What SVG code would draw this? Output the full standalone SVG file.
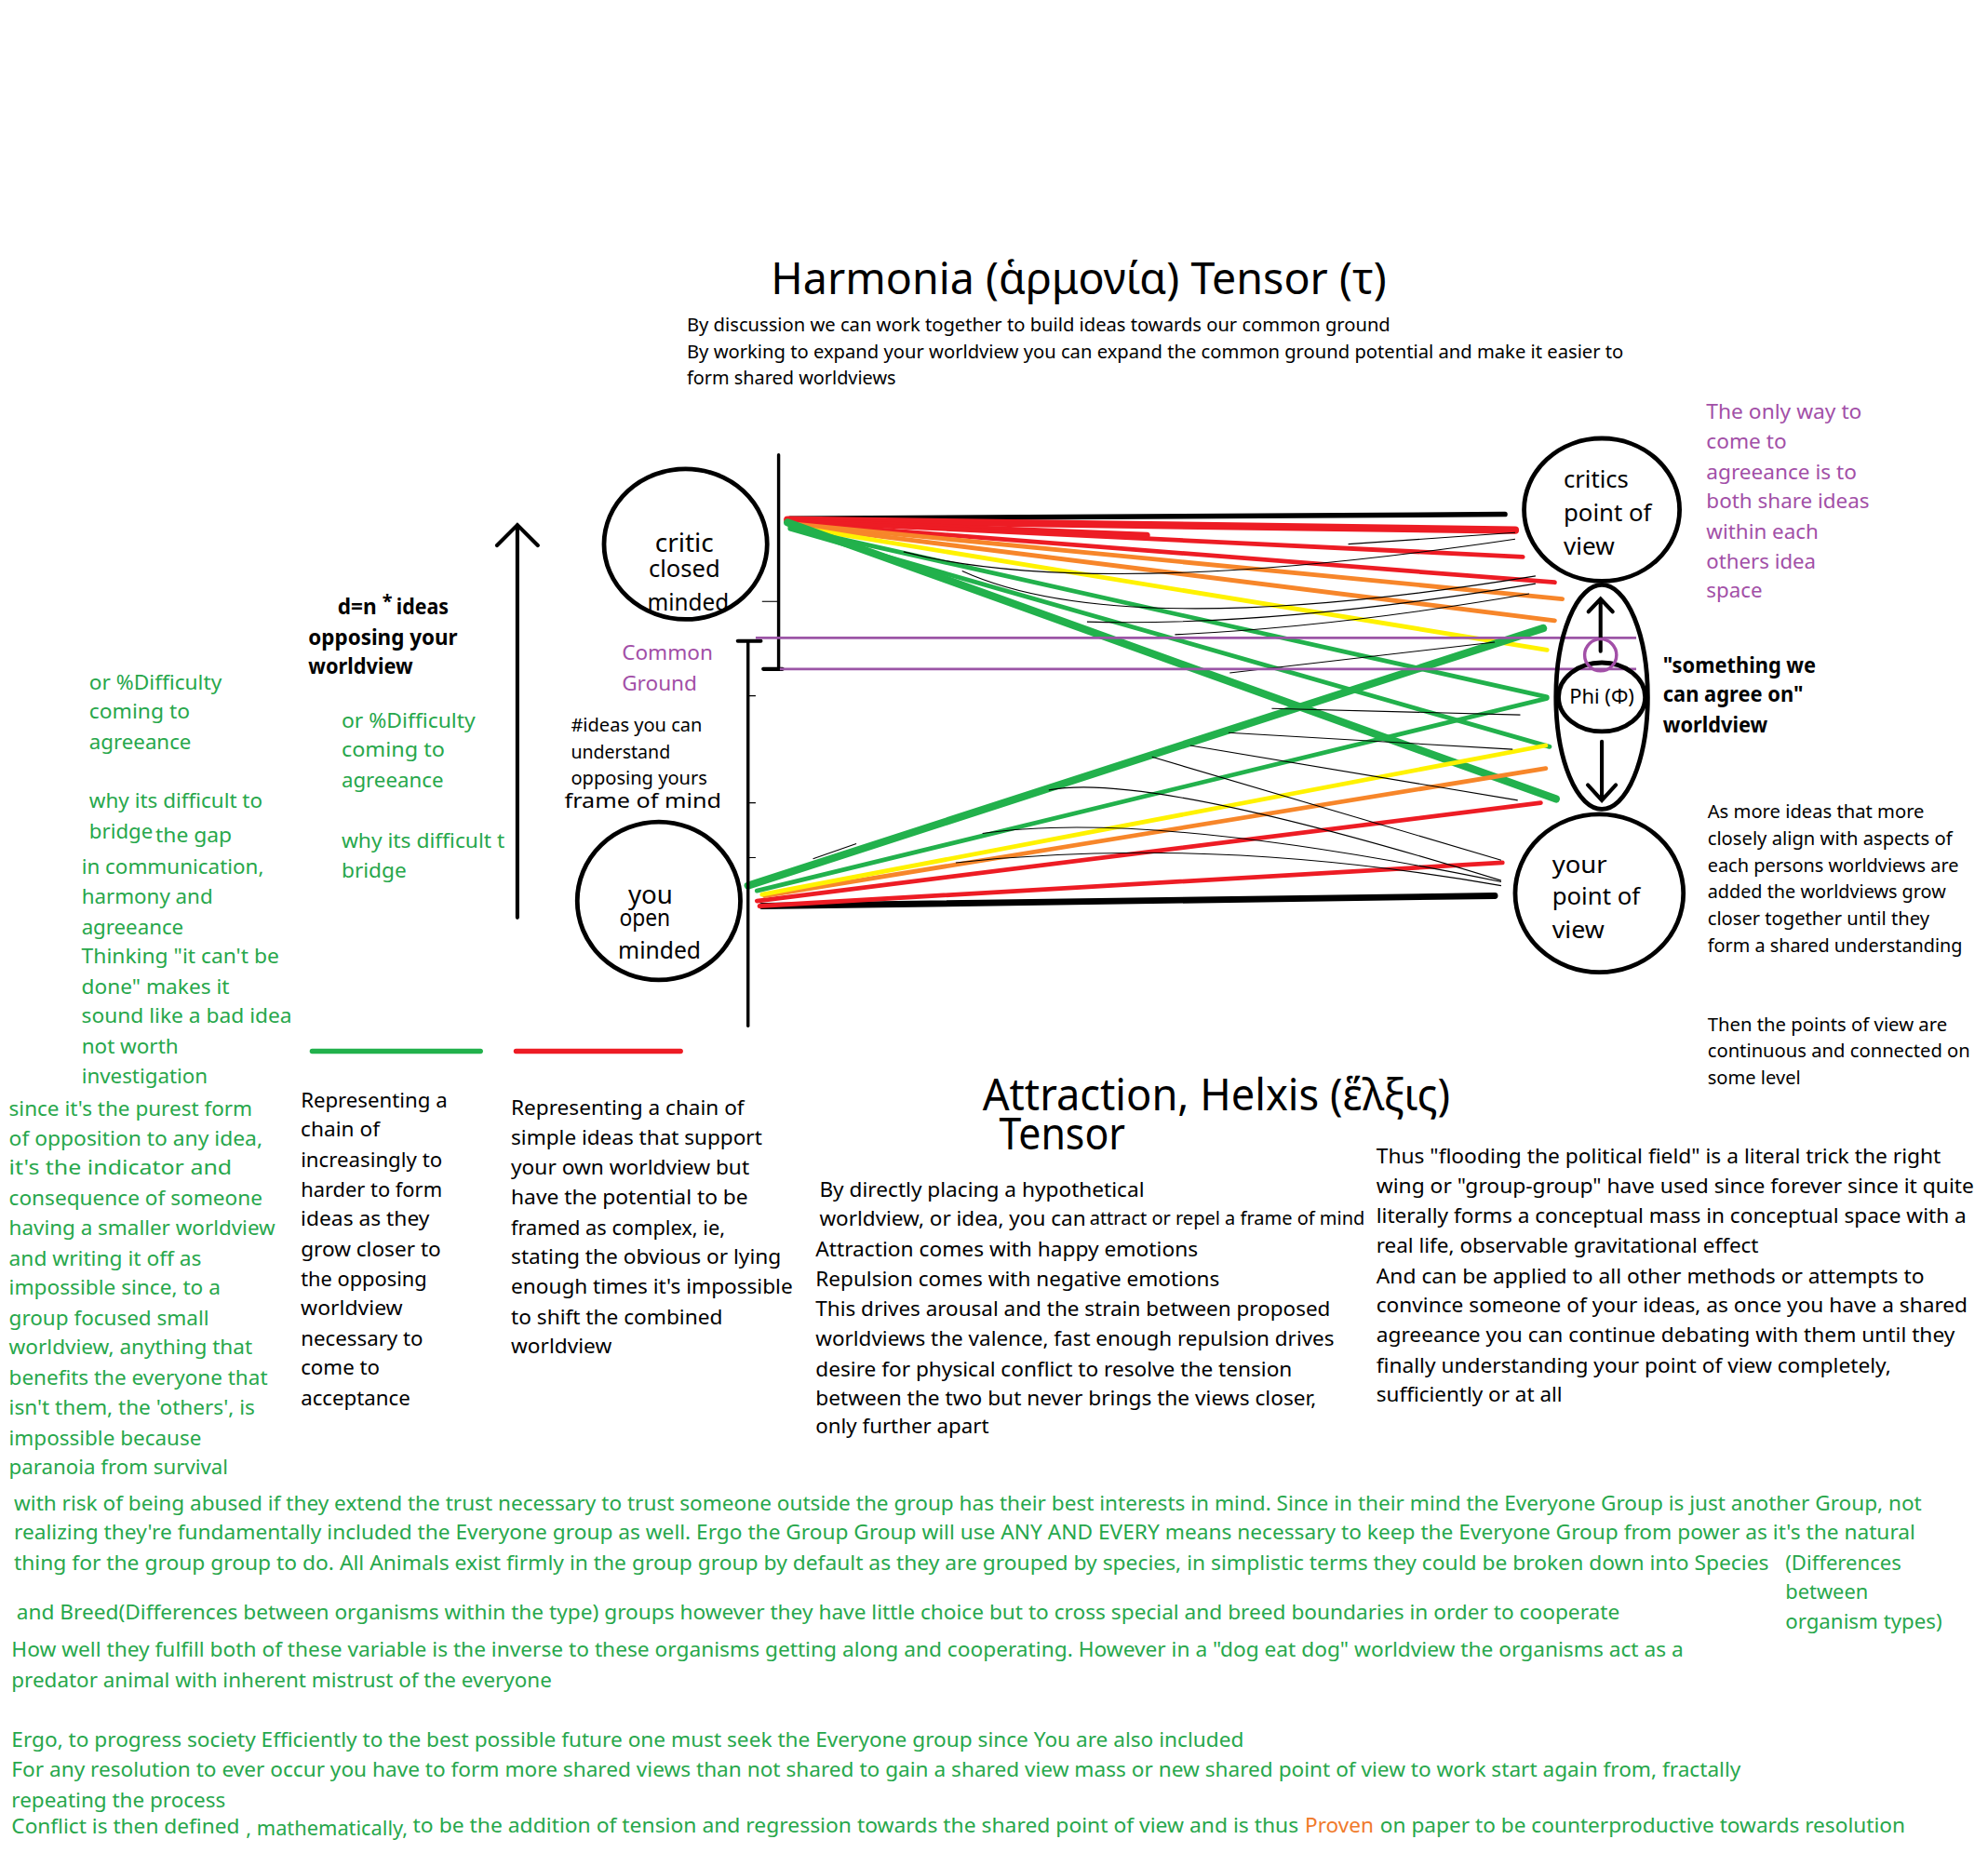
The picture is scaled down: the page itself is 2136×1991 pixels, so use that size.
<svg xmlns="http://www.w3.org/2000/svg" width="2136" height="1991" viewBox="0 0 2136 1991">
<style>
text{font-family:"Noto Sans","Open Sans","DejaVu Sans",sans-serif;fill:#000}
.g{fill:#27a74b}
.p{fill:#a24fa7}
.o{fill:#f07a2a}
.b{font-weight:bold}
.s14{font-size:14.5px}
.s16{font-size:16px}
.s17{font-size:16.5px}
.s19{font-size:18.5px}
.s20{font-size:19.5px}
.s34{font-size:34px}
.node{fill:none;stroke:#000;stroke-width:3.5}
.ln{fill:none;stroke-linecap:round}
.thin{fill:none;stroke:#000;stroke-width:0.8}
.bk{stroke:#000}
.rd{stroke:#ed1c24}
.or{stroke:#f7862a}
.ye{stroke:#fff200}
.gr{stroke:#22b14c}
.pu{stroke:#9b55a6;stroke-width:2;fill:none}
</style>
<rect width="2136" height="1991" fill="#fff"/>
<g transform="scale(1.3692)">

<g id="titles">
<text class="s34" x="605" y="231" textLength="483" lengthAdjust="spacingAndGlyphs">Harmonia (ἁρμονία) Tensor  (τ)</text>
<text class="s14" x="539" y="260" textLength="552" lengthAdjust="spacingAndGlyphs">By discussion we can work together to build ideas towards our common ground</text>
<text class="s14" x="539" y="281" textLength="735" lengthAdjust="spacingAndGlyphs">By working to expand your worldview you can expand the common ground potential and make it easier to</text>
<text class="s14" x="539" y="302" textLength="164" lengthAdjust="spacingAndGlyphs">form shared worldviews</text>
<text class="s34" x="771" y="871" textLength="367" lengthAdjust="spacingAndGlyphs">Attraction, Helxis (ἕλξις)</text>
<text class="s34" x="784" y="902" textLength="99" lengthAdjust="spacingAndGlyphs">Tensor</text>
</g>

<g id="connectors">
<!-- from critic -->
<path class="ln bk" stroke-width="4" d="M620,407 L1181,403.6"/>
<path class="ln rd" stroke-width="6" d="M618,408 L1189,416"/>
<path class="ln rd" stroke-width="5" d="M620,409 L900,420"/>
<path class="ln rd" stroke-width="3.5" d="M618,409 L1195,437"/>
<path class="ln rd" stroke-width="3.5" d="M618,410 L1220,457"/>
<path class="ln or" stroke-width="3.5" d="M620,411 L1226,470"/>
<path class="ln or" stroke-width="3.5" d="M620,412 L1220,487"/>
<path class="ln ye" stroke-width="3.5" d="M620,413 L1214,510"/>
<path class="ln gr" stroke-width="3.5" d="M620,414 L1214,547"/>
<path class="ln gr" stroke-width="3.5" d="M620,415 L1216,586"/>
<path class="ln gr" stroke-width="6" d="M618,410 L1221,627"/>
<!-- from you -->
<path class="ln bk" stroke-width="5" d="M598,711 L1173,703"/>
<path class="ln rd" stroke-width="3.5" d="M596,711 L1179,677"/>
<path class="ln rd" stroke-width="3.5" d="M594,707 L1209,630"/>
<path class="ln or" stroke-width="3.5" d="M600,703 L1213,603"/>
<path class="ln ye" stroke-width="3.5" d="M598,702 L1213,585"/>
<path class="ln gr" stroke-width="3.5" d="M594,699 L1214,548"/>
<path class="ln gr" stroke-width="6" d="M587,695 L1211,493"/>
<!-- thin mesh -->
<path class="thin" d="M709,433 Q860,472 1189,423"/>
<path class="thin" d="M755,448 Q880,505 1205,452"/>
<path class="thin" d="M853,488 Q1000,492 1205,458"/>
<path class="thin" d="M922,498 Q1050,492 1200,466"/>
<path class="thin" d="M965,528 L1173,504"/>
<path class="thin" d="M1058,427 L1189,418"/>
<path class="thin" d="M998,556 L1193,561"/>
<path class="thin" d="M964,575 L1187,588"/>
<path class="thin" d="M934,585 L1191,628"/>
<path class="thin" d="M904,594 L1178,675"/>
<path class="thin" d="M823,620 Q900,605 1178,691"/>
<path class="thin" d="M771,654 Q900,635 1178,692"/>
<path class="thin" d="M750,677 Q950,655 1178,695"/>
<path class="thin" d="M638,674 L672,662"/>
<!-- axes -->
<path class="ln bk" stroke-width="2.5" d="M611,357 L611,525"/>
<path class="ln bk" stroke-width="3" d="M599,525 L614,525"/>
<path class="ln bk" stroke-width="2.5" d="M587,503 L587,805"/>
<path class="ln bk" stroke-width="3" d="M579,503 L597,503"/>
<path class="thin" d="M598,472 L610,472"/>
<path class="thin" d="M587,546 L593,546 M587,630 L593,630 M587,673 L593,673"/>
<path class="ln bk" stroke-width="3" d="M406,720 L406,412 M390,428 L406,412 L422,428"/>
<!-- common ground -->
<path class="pu" d="M593,500.5 L1284,500.5"/>
<path class="pu" d="M612,525 L1284,525"/>
<!-- legend -->
<path class="ln gr" stroke-width="4" d="M245,825 L377,825"/>
<path class="ln rd" stroke-width="4" d="M405,825 L534,825"/>
</g>

<g id="critic">
<ellipse class="node" cx="538" cy="427" rx="64" ry="59"/>
<text class="s20" x="514" y="433" textLength="46" lengthAdjust="spacingAndGlyphs">critic</text>
<text class="s19" x="509" y="453" textLength="56" lengthAdjust="spacingAndGlyphs">closed</text>
<text class="s19" x="508" y="479" textLength="64" lengthAdjust="spacingAndGlyphs">minded</text>
</g>

<g id="you">
<ellipse class="node" cx="517" cy="707" rx="64" ry="62"/>
<text class="s20" x="493" y="709" textLength="35" lengthAdjust="spacingAndGlyphs">you</text>
<text class="s19" x="486" y="727" textLength="40" lengthAdjust="spacingAndGlyphs">open</text>
<text class="s19" x="485" y="752" textLength="65" lengthAdjust="spacingAndGlyphs">minded</text>
</g>

<g id="critics-pov">
<ellipse class="node" cx="1257" cy="400" rx="61" ry="56"/>
<text class="s19" x="1227" y="383" textLength="51" lengthAdjust="spacingAndGlyphs">critics</text>
<text class="s19" x="1227" y="409" textLength="69" lengthAdjust="spacingAndGlyphs">point of</text>
<text class="s19" x="1227" y="435" textLength="40" lengthAdjust="spacingAndGlyphs">view</text>
</g>

<g id="your-pov">
<ellipse class="node" cx="1255" cy="701" rx="66" ry="62"/>
<text class="s19" x="1218" y="685" textLength="43" lengthAdjust="spacingAndGlyphs">your</text>
<text class="s19" x="1218" y="710" textLength="69" lengthAdjust="spacingAndGlyphs">point of</text>
<text class="s19" x="1218" y="736" textLength="41" lengthAdjust="spacingAndGlyphs">view</text>
</g>

<g id="phi">
<ellipse class="node" stroke-width="3" cx="1257" cy="547" rx="36" ry="88"/>
<ellipse class="node" stroke-width="3" cx="1257" cy="547" rx="34" ry="27"/>
<text class="s16" x="1257" y="552" text-anchor="middle">Phi (Φ)</text>
<path class="ln bk" stroke-width="3" d="M1256,511 L1256,471 M1246.5,480 L1256,470 L1265.5,480"/>
<path class="ln bk" stroke-width="3" d="M1257,582 L1257,627 M1246,616 L1257,628 L1268,616"/>
<circle cx="1256" cy="514" r="12.5" fill="none" stroke="#a24fa7" stroke-width="2.5"/>
</g>

<g id="labels">
<text class="s17 p" x="488" y="518">Common</text>
<text class="s17 p" x="488" y="542">Ground</text>
<text class="s14" x="448" y="574" textLength="103" lengthAdjust="spacingAndGlyphs">#ideas you can</text>
<text class="s14" x="448" y="595" textLength="78" lengthAdjust="spacingAndGlyphs">understand</text>
<text class="s14" x="448" y="616" textLength="107" lengthAdjust="spacingAndGlyphs">opposing yours</text>
<text class="s17" x="443" y="634" textLength="123" lengthAdjust="spacingAndGlyphs">frame of mind</text>

<text class="s17 b" x="265" y="482">d=n</text><text class="s14 b" x="300" y="477">*</text><text class="s17 b" x="311" y="482" textLength="41" lengthAdjust="spacingAndGlyphs">ideas</text>
<text class="s17 b" x="242" y="506" textLength="117" lengthAdjust="spacingAndGlyphs">opposing your</text>
<text class="s17 b" x="242" y="529" textLength="82" lengthAdjust="spacingAndGlyphs">worldview</text>

<text class="s17 g" x="268" y="571" textLength="105" lengthAdjust="spacingAndGlyphs">or %Difficulty</text>
<text class="s17 g" x="268" y="594" textLength="81" lengthAdjust="spacingAndGlyphs">coming to</text>
<text class="s17 g" x="268" y="618" textLength="80" lengthAdjust="spacingAndGlyphs">agreeance</text>
<text class="s17 g" x="268" y="665" textLength="128" lengthAdjust="spacingAndGlyphs">why its difficult t</text>
<text class="s17 g" x="268" y="689" textLength="51" lengthAdjust="spacingAndGlyphs">bridge</text>

<text class="s17 g" x="70" y="541" textLength="104" lengthAdjust="spacingAndGlyphs">or %Difficulty</text>
<text class="s17 g" x="70" y="564" textLength="79" lengthAdjust="spacingAndGlyphs">coming to</text>
<text class="s17 g" x="70" y="588" textLength="80" lengthAdjust="spacingAndGlyphs">agreeance</text>
<text class="s17 g" x="70" y="634" textLength="136" lengthAdjust="spacingAndGlyphs">why its difficult to</text>
<text class="s17 g" x="70" y="658" textLength="50" lengthAdjust="spacingAndGlyphs">bridge</text>
<text class="s17 g" x="122" y="661" textLength="60" lengthAdjust="spacingAndGlyphs">the gap</text>
<text class="s17 g" x="64" y="686" textLength="143" lengthAdjust="spacingAndGlyphs">in communication,</text>
<text class="s17 g" x="64" y="709" textLength="103" lengthAdjust="spacingAndGlyphs">harmony and</text>
<text class="s17 g" x="64" y="733" textLength="80" lengthAdjust="spacingAndGlyphs">agreeance</text>
<text class="s17 g" x="64" y="756" textLength="155" lengthAdjust="spacingAndGlyphs">Thinking "it can't be</text>
<text class="s17 g" x="64" y="780" textLength="116" lengthAdjust="spacingAndGlyphs">done" makes it</text>
<text class="s17 g" x="64" y="803" textLength="165" lengthAdjust="spacingAndGlyphs">sound like a bad idea</text>
<text class="s17 g" x="64" y="827" textLength="76" lengthAdjust="spacingAndGlyphs">not worth</text>
<text class="s17 g" x="64" y="850" textLength="99" lengthAdjust="spacingAndGlyphs">investigation</text>

<text class="s17 g" x="7" y="876" textLength="191" lengthAdjust="spacingAndGlyphs">since it's the purest form</text>
<text class="s17 g" x="7" y="899" textLength="199" lengthAdjust="spacingAndGlyphs">of opposition to any idea,</text>
<text class="s17 g" x="7" y="922" textLength="175" lengthAdjust="spacingAndGlyphs">it's the indicator and</text>
<text class="s17 g" x="7" y="946" textLength="199" lengthAdjust="spacingAndGlyphs">consequence of someone</text>
<text class="s17 g" x="7" y="969" textLength="209" lengthAdjust="spacingAndGlyphs">having a smaller worldview</text>
<text class="s17 g" x="7" y="993" textLength="151" lengthAdjust="spacingAndGlyphs">and writing it off as</text>
<text class="s17 g" x="7" y="1016" textLength="166" lengthAdjust="spacingAndGlyphs">impossible since, to a</text>
<text class="s17 g" x="7" y="1040" textLength="157" lengthAdjust="spacingAndGlyphs">group focused small</text>
<text class="s17 g" x="7" y="1063" textLength="191" lengthAdjust="spacingAndGlyphs">worldview, anything that</text>
<text class="s17 g" x="7" y="1087" textLength="203" lengthAdjust="spacingAndGlyphs">benefits the everyone that</text>
<text class="s17 g" x="7" y="1110" textLength="193" lengthAdjust="spacingAndGlyphs">isn't them, the 'others', is</text>
<text class="s17 g" x="7" y="1134" textLength="151" lengthAdjust="spacingAndGlyphs">impossible because</text>
<text class="s17 g" x="7" y="1157" textLength="172" lengthAdjust="spacingAndGlyphs">paranoia from survival</text>

<text class="s17" x="236" y="869" textLength="115" lengthAdjust="spacingAndGlyphs">Representing a</text>
<text class="s17" x="236" y="892" textLength="62" lengthAdjust="spacingAndGlyphs">chain of</text>
<text class="s17" x="236" y="916" textLength="111" lengthAdjust="spacingAndGlyphs">increasingly to</text>
<text class="s17" x="236" y="939" textLength="111" lengthAdjust="spacingAndGlyphs">harder to form</text>
<text class="s17" x="236" y="962" textLength="101" lengthAdjust="spacingAndGlyphs">ideas as they</text>
<text class="s17" x="236" y="986" textLength="110" lengthAdjust="spacingAndGlyphs">grow closer to</text>
<text class="s17" x="236" y="1009" textLength="99" lengthAdjust="spacingAndGlyphs">the opposing</text>
<text class="s17" x="236" y="1032" textLength="80" lengthAdjust="spacingAndGlyphs">worldview</text>
<text class="s17" x="236" y="1056" textLength="96" lengthAdjust="spacingAndGlyphs">necessary to</text>
<text class="s17" x="236" y="1079" textLength="62" lengthAdjust="spacingAndGlyphs">come to</text>
<text class="s17" x="236" y="1103" textLength="86" lengthAdjust="spacingAndGlyphs">acceptance</text>

<text class="s17" x="401" y="875" textLength="183" lengthAdjust="spacingAndGlyphs">Representing a chain of</text>
<text class="s17" x="401" y="898" textLength="197" lengthAdjust="spacingAndGlyphs">simple ideas that support</text>
<text class="s17" x="401" y="922" textLength="187" lengthAdjust="spacingAndGlyphs">your own worldview but</text>
<text class="s17" x="401" y="945" textLength="186" lengthAdjust="spacingAndGlyphs">have the potential to be</text>
<text class="s17" x="401" y="969" textLength="168" lengthAdjust="spacingAndGlyphs">framed as complex, ie,</text>
<text class="s17" x="401" y="992" textLength="212" lengthAdjust="spacingAndGlyphs">stating the obvious or lying</text>
<text class="s17" x="401" y="1015" textLength="221" lengthAdjust="spacingAndGlyphs">enough times it's impossible</text>
<text class="s17" x="401" y="1039" textLength="166" lengthAdjust="spacingAndGlyphs">to shift the combined</text>
<text class="s17" x="401" y="1062" textLength="79" lengthAdjust="spacingAndGlyphs">worldview</text>

<text class="s17 p" x="1339" y="329" textLength="122" lengthAdjust="spacingAndGlyphs">The only way to</text>
<text class="s17 p" x="1339" y="352" textLength="63" lengthAdjust="spacingAndGlyphs">come to</text>
<text class="s17 p" x="1339" y="376" textLength="118" lengthAdjust="spacingAndGlyphs">agreeance is to</text>
<text class="s17 p" x="1339" y="399" textLength="128" lengthAdjust="spacingAndGlyphs">both share ideas</text>
<text class="s17 p" x="1339" y="423" textLength="88" lengthAdjust="spacingAndGlyphs">within each</text>
<text class="s17 p" x="1339" y="446" textLength="86" lengthAdjust="spacingAndGlyphs">others idea</text>
<text class="s17 p" x="1339" y="469" textLength="44" lengthAdjust="spacingAndGlyphs">space</text>

<text class="s17 b" x="1305" y="528" textLength="120" lengthAdjust="spacingAndGlyphs">"something we</text>
<text class="s17 b" x="1305" y="551" textLength="110" lengthAdjust="spacingAndGlyphs">can agree on"</text>
<text class="s17 b" x="1305" y="575" textLength="82" lengthAdjust="spacingAndGlyphs">worldview</text>

<text class="s14" x="1340" y="642" textLength="170" lengthAdjust="spacingAndGlyphs">As more ideas that more</text>
<text class="s14" x="1340" y="663" textLength="192" lengthAdjust="spacingAndGlyphs">closely align with aspects of</text>
<text class="s14" x="1340" y="684" textLength="197" lengthAdjust="spacingAndGlyphs">each persons worldviews are</text>
<text class="s14" x="1340" y="705" textLength="187" lengthAdjust="spacingAndGlyphs">added the worldviews grow</text>
<text class="s14" x="1340" y="726" textLength="174" lengthAdjust="spacingAndGlyphs">closer together until they</text>
<text class="s14" x="1340" y="747" textLength="200" lengthAdjust="spacingAndGlyphs">form a shared understanding</text>

<text class="s14" x="1340" y="809" textLength="188" lengthAdjust="spacingAndGlyphs">Then the points of view are</text>
<text class="s14" x="1340" y="830" textLength="206" lengthAdjust="spacingAndGlyphs">continuous and connected on</text>
<text class="s14" x="1340" y="851" textLength="73" lengthAdjust="spacingAndGlyphs">some level</text>

<text class="s17" x="643" y="939" textLength="255" lengthAdjust="spacingAndGlyphs">By directly placing a hypothetical</text>
<text class="s17" x="643" y="962" textLength="209" lengthAdjust="spacingAndGlyphs">worldview, or idea, you can</text>
<text class="s14" x="855" y="961" textLength="216" lengthAdjust="spacingAndGlyphs">attract or repel a frame of mind</text>
<text class="s17" x="640" y="986" textLength="300" lengthAdjust="spacingAndGlyphs">Attraction comes with happy emotions</text>
<text class="s17" x="640" y="1009" textLength="317" lengthAdjust="spacingAndGlyphs">Repulsion comes with negative emotions</text>
<text class="s17" x="640" y="1033" textLength="404" lengthAdjust="spacingAndGlyphs">This drives arousal and the strain between proposed</text>
<text class="s17" x="640" y="1056" textLength="407" lengthAdjust="spacingAndGlyphs">worldviews the valence, fast enough repulsion drives</text>
<text class="s17" x="640" y="1080" textLength="374" lengthAdjust="spacingAndGlyphs">desire for physical conflict to resolve the tension</text>
<text class="s17" x="640" y="1103" textLength="393" lengthAdjust="spacingAndGlyphs">between the two but never brings the views closer,</text>
<text class="s17" x="640" y="1125" textLength="136" lengthAdjust="spacingAndGlyphs">only further apart</text>

<text class="s17" x="1080" y="913" textLength="443" lengthAdjust="spacingAndGlyphs">Thus "flooding the political field" is a literal trick the right</text>
<text class="s17" x="1080" y="936" textLength="469" lengthAdjust="spacingAndGlyphs">wing or "group-group" have used since forever since it quite</text>
<text class="s17" x="1080" y="960" textLength="463" lengthAdjust="spacingAndGlyphs">literally forms a conceptual mass in conceptual space with a</text>
<text class="s17" x="1080" y="983" textLength="300" lengthAdjust="spacingAndGlyphs">real life, observable gravitational effect</text>
<text class="s17" x="1080" y="1007" textLength="430" lengthAdjust="spacingAndGlyphs">And can be applied to all other methods or attempts to</text>
<text class="s17" x="1080" y="1030" textLength="464" lengthAdjust="spacingAndGlyphs">convince someone of your ideas, as once you have a shared</text>
<text class="s17" x="1080" y="1053" textLength="454" lengthAdjust="spacingAndGlyphs">agreeance you can continue debating with them until they</text>
<text class="s17" x="1080" y="1077" textLength="404" lengthAdjust="spacingAndGlyphs">finally understanding your point of view completely,</text>
<text class="s17" x="1080" y="1100" textLength="146" lengthAdjust="spacingAndGlyphs">sufficiently or at all</text>
</g>

<g id="bottom-text">
<text class="s17 g" x="11" y="1185" textLength="1497" lengthAdjust="spacingAndGlyphs">with risk of being abused if they extend the trust necessary to trust someone outside the group has their best interests in mind. Since in their mind the Everyone Group is just another Group, not</text>
<text class="s17 g" x="11" y="1208" textLength="1492" lengthAdjust="spacingAndGlyphs">realizing they're fundamentally included the Everyone group as well. Ergo the Group Group will use ANY AND EVERY means necessary to keep the Everyone Group from power as it's the natural</text>
<text class="s17 g" x="11" y="1232" textLength="1377" lengthAdjust="spacingAndGlyphs">thing for the group group to do. All Animals exist firmly in the group group by default as they are grouped by species, in simplistic terms they could be broken down into Species</text>
<text class="s17 g" x="1401" y="1232" textLength="91" lengthAdjust="spacingAndGlyphs">(Differences</text>
<text class="s17 g" x="1401" y="1255" textLength="65" lengthAdjust="spacingAndGlyphs">between</text>
<text class="s17 g" x="1401" y="1278" textLength="123" lengthAdjust="spacingAndGlyphs">organism types)</text>
<text class="s17 g" x="13" y="1271" textLength="1258" lengthAdjust="spacingAndGlyphs">and Breed(Differences between organisms within the type) groups however they have little choice but to cross special and breed boundaries in order to cooperate</text>
<text class="s17 g" x="9" y="1300" textLength="1312" lengthAdjust="spacingAndGlyphs">How well they fulfill both of these variable is the inverse to these organisms getting along and cooperating. However in a "dog eat dog" worldview the organisms act as a</text>
<text class="s17 g" x="9" y="1324" textLength="424" lengthAdjust="spacingAndGlyphs">predator animal with inherent mistrust of the everyone</text>
<text class="s17 g" x="9" y="1371" textLength="967" lengthAdjust="spacingAndGlyphs">Ergo, to progress society Efficiently to the best possible future one must seek the Everyone group since You are also included</text>
<text class="s17 g" x="9" y="1394" textLength="1357" lengthAdjust="spacingAndGlyphs">For any resolution to ever occur you have to form more shared views than not shared to gain a shared view mass or new shared point of view to work start again from, fractally</text>
<text class="s17 g" x="9" y="1418" textLength="168" lengthAdjust="spacingAndGlyphs">repeating the process</text>
<text class="s17 g" x="9" y="1439" textLength="179" lengthAdjust="spacingAndGlyphs">Conflict is then defined</text>
<text class="s17 g" x="193" y="1440" textLength="127" lengthAdjust="spacingAndGlyphs">, mathematically,</text>
<text class="s17 g" x="324" y="1438" textLength="695" lengthAdjust="spacingAndGlyphs">to be the addition of tension and regression towards the shared point of view and is  thus</text>
<text class="s17 o" x="1024" y="1438" textLength="54" lengthAdjust="spacingAndGlyphs">Proven</text>
<text class="s17 g" x="1083" y="1438" textLength="412" lengthAdjust="spacingAndGlyphs">on paper to be counterproductive towards resolution</text>
</g>

</g>
</svg>
